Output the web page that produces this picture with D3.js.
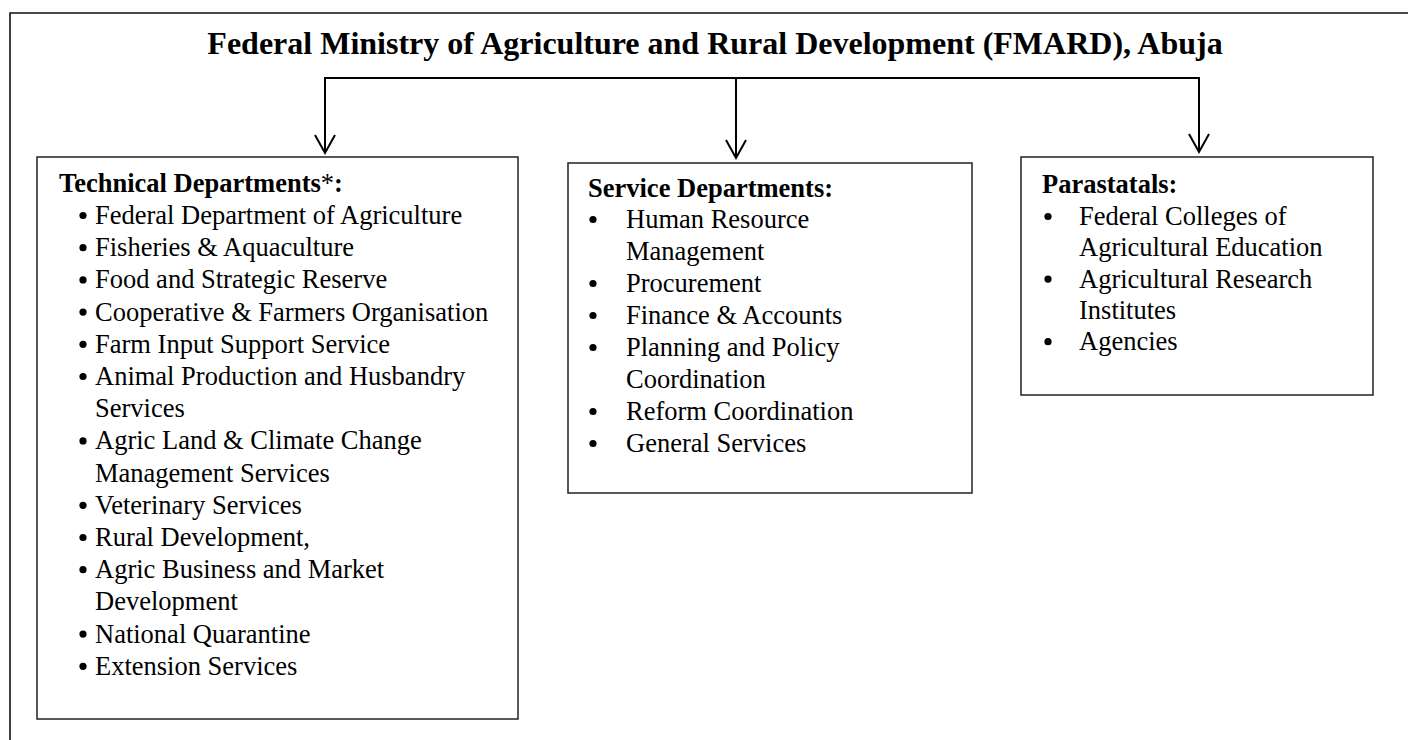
<!DOCTYPE html>
<html>
<head>
<meta charset="utf-8">
<script src="https://cdn.jsdelivr.net/npm/d3@7"></script>
<style>
  html, body { margin: 0; padding: 0; background: #fff; }
  svg { display: block; font-family: "Liberation Serif", "Times New Roman", serif; }
</style>
</head>
<body>
<div id="main"></div>
<script>
/// chart text ///

const title = 'Federal Ministry of Agriculture and Rural Development (FMARD), Abuja';

// box headings (the asterisk on the first one is not bold)
const headings = ['Technical Departments', 'Service Departments', 'Parastatals'];
const headingMarks = ['*', '', ''];

// each item is a list of its wrapped lines
const technicalItems = [
    ['Federal Department of Agriculture'],
    ['Fisheries & Aquaculture'],
    ['Food and Strategic Reserve'],
    ['Cooperative & Farmers Organisation'],
    ['Farm Input Support Service'],
    ['Animal Production and Husbandry', 'Services'],
    ['Agric Land & Climate Change', 'Management Services'],
    ['Veterinary Services'],
    ['Rural Development,'],
    ['Agric Business and Market', 'Development'],
    ['National Quarantine'],
    ['Extension Services']
];

const serviceItems = [
    ['Human Resource', 'Management'],
    ['Procurement'],
    ['Finance & Accounts'],
    ['Planning and Policy', 'Coordination'],
    ['Reform Coordination'],
    ['General Services']
];

const parastatalItems = [
    ['Federal Colleges of', 'Agricultural Education'],
    ['Agricultural Research', 'Institutes'],
    ['Agencies']
];

/// layout ///

const w = 1408;
const h = 740;

const svg = d3.select('#main')
            .append('svg')
            .attr('width', w)
            .attr('height', h);

// outer frame (only top and left show inside the picture)
svg.append('path')
    .attr('d', 'M10,' + (h + 5) + 'V13H' + (w + 5))
    .attr('fill', 'none')
    .attr('stroke', '#111')
    .attr('stroke-width', 1.6);

svg.append('text')
    .attr('x', 715)
    .attr('y', 54)
    .attr('text-anchor', 'middle')
    .attr('font-size', 32)
    .attr('font-weight', 'bold')
    .attr('fill', '#000')
    .text(title);

// geometry of each box; line positions come from a linear scale on the line index
const boxes = [
    { items: technicalItems, x0: 37, x1: 518, y0: 157, y1: 719, hx: 59, hy: 192, bx: 83, tx: 95, first: 224, lh: 32.2, arrowX: 325, tip: 153 },
    { items: serviceItems, x0: 568, x1: 972, y0: 163, y1: 493, hx: 588, hy: 197, bx: 593, tx: 626, first: 228, lh: 32, arrowX: 736, tip: 158 },
    { items: parastatalItems, x0: 1021, x1: 1373, y0: 157, y1: 395, hx: 1042, hy: 193, bx: 1048, tx: 1079, first: 225, lh: 31.3, arrowX: 1199, tip: 152 }
];

const connectorY = 78;

// horizontal connector across the three arrows
const xs = boxes.map(b => b.arrowX);
svg.append('line')
    .attr('x1', d3.min(xs))
    .attr('x2', d3.max(xs))
    .attr('y1', connectorY)
    .attr('y2', connectorY)
    .attr('stroke', '#000')
    .attr('stroke-width', 2);

const arrows = svg.append('g')
    .attr('fill', 'none')
    .attr('stroke', '#000')
    .attr('stroke-width', 2)
    .selectAll('path')
    .data(boxes)
    .join('path')
    .attr('d', b => {
        const p = d3.path();
        p.moveTo(b.arrowX, connectorY - 1);
        p.lineTo(b.arrowX, b.tip);
        p.moveTo(b.arrowX - 10, b.tip - 18);
        p.lineTo(b.arrowX, b.tip);
        p.lineTo(b.arrowX + 10, b.tip - 18);
        return p.toString();
    });

boxes.forEach((b, i) => {
    const g = svg.append('g');

    g.append('rect')
        .attr('x', b.x0)
        .attr('y', b.y0)
        .attr('width', b.x1 - b.x0)
        .attr('height', b.y1 - b.y0)
        .attr('fill', 'none')
        .attr('stroke', '#222')
        .attr('stroke-width', 1.5);

    const head = g.append('text')
        .attr('x', b.hx)
        .attr('y', b.hy)
        .attr('font-size', 26.5)
        .attr('font-weight', 'bold');
    head.append('tspan').text(headings[i]);
    if (headingMarks[i]) head.append('tspan').attr('font-weight', 'normal').text(headingMarks[i]);
    head.append('tspan').text(':');

    // flatten items into lines, remembering which lines start a bullet
    const lines = [];
    b.items.forEach(item => item.forEach((t, k) => lines.push({ text: t, bullet: k === 0 })));

    const y = d3.scaleLinear()
                .domain([0, 1])
                .range([b.first, b.first + b.lh]);

    g.selectAll('text.item')
        .data(lines)
        .join('text')
        .attr('class', 'item')
        .attr('x', b.tx)
        .attr('y', (d, k) => y(k))
        .attr('font-size', 26.5)
        .text(d => d.text);

    g.selectAll('circle')
        .data(lines.map((d, k) => ({ bullet: d.bullet, k: k })).filter(d => d.bullet))
        .join('circle')
        .attr('cx', b.bx)
        .attr('cy', d => y(d.k) - 8.5)
        .attr('r', 3.6)
        .attr('fill', '#000');
});
</script>
</body>
</html>
